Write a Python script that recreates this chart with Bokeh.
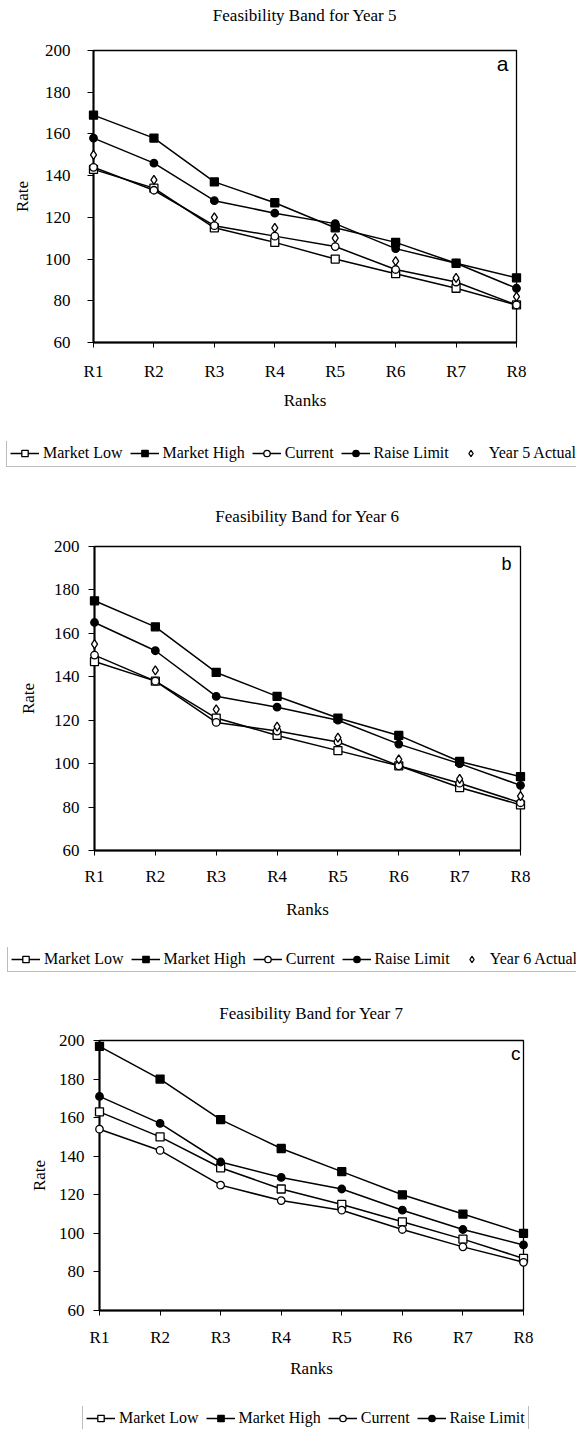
from bokeh.plotting import figure
from bokeh.models import Range1d, FixedTicker, Legend, LegendItem, Label, Title
from bokeh.layouts import column
from bokeh.embed import file_html
from bokeh.resources import INLINE

ranks = ["R1", "R2", "R3", "R4", "R5", "R6", "R7", "R8"]
rank_pos = [1, 2, 3, 4, 5, 6, 7, 8]
y_ticks = [60, 80, 100, 120, 140, 160, 180, 200]

# Year 5
y5_market_low = [143, 134, 115, 108, 100, 93, 86, 78]
y5_market_high = [169, 158, 137, 127, 115, 108, 98, 91]
y5_current = [144, 133, 116, 111, 106, 95, 89, 78]
y5_raise_limit = [158, 146, 128, 122, 117, 105, 98, 86]
y5_actual = [150, 138, 120, 115, 110, 99, 91, 82]

# Year 6
y6_market_low = [147, 138, 121, 113, 106, 99, 89, 81]
y6_market_high = [175, 163, 142, 131, 121, 113, 101, 94]
y6_current = [150, 138, 119, 115, 110, 99, 91, 82]
y6_raise_limit = [165, 152, 131, 126, 120, 109, 100, 90]
y6_actual = [155, 143, 125, 117, 112, 102, 93, 85]

# Year 7
y7_market_low = [163, 150, 134, 123, 115, 106, 97, 87]
y7_market_high = [197, 180, 159, 144, 132, 120, 110, 100]
y7_current = [154, 143, 125, 117, 112, 102, 93, 85]
y7_raise_limit = [171, 157, 137, 129, 123, 112, 102, 94]

series_labels = ["Market Low", "Market High", "Current", "Raise Limit"]

SERIF = "Liberation Serif"
SANS = "Liberation Sans"
MARKERS = [("square", "white", 8), ("square", "black", 8),
           ("circle", "white", 7.5), ("circle", "black", 7.5)]


def add_series(p, series, actual, level):
    rends = []
    for vals, (marker, fill, size) in zip(series, MARKERS):
        ln = p.line(rank_pos, vals, line_color="black", line_width=1.5)
        sc = p.scatter(rank_pos, vals, marker=marker, size=size, fill_color=fill,
                       line_color="black", line_width=1.3, level=level)
        rends.append([ln, sc])
    if actual is not None:
        sc = p.scatter(rank_pos, actual, marker="diamond", size=9, fill_color="white",
                       line_color="black", line_width=1.3, level=level)
        rends.append([sc])
    return rends


def panel(title, letter, series, actual, actual_label,
          height, b_left, b_right, b_top, b_bottom, title_gap,
          ylab_standoff, yaxis_label_standoff, xlab_standoff, xaxis_label_standoff,
          letter_size, letter_dx, letter_dy, leg_height, leg_loc):
    p = figure(width=576, height=height, x_range=Range1d(1, 8), y_range=Range1d(60, 200),
               output_backend="svg", toolbar_location=None, title=None,
               min_border_left=b_left, min_border_right=b_right,
               min_border_top=b_top, min_border_bottom=b_bottom)
    # spacer between frame and title, then the title itself
    p.add_layout(Title(text="\u00a0", text_font_size="1px", standoff=title_gap), "above")
    p.add_layout(Title(text=title, align="center", text_font=SERIF, text_font_size="17px",
                       text_font_style="normal", text_color="black", standoff=0), "above")
    p.xgrid.visible = False
    p.ygrid.visible = False
    p.outline_line_color = "black"
    p.outline_line_width = 1.3
    p.background_fill_color = "white"
    p.border_fill_color = "white"

    p.xaxis.ticker = FixedTicker(ticks=rank_pos)
    p.xaxis.major_label_overrides = {k: r for k, r in zip(rank_pos, ranks)}
    p.yaxis.ticker = FixedTicker(ticks=y_ticks)
    for ax in (p.xaxis[0], p.yaxis[0]):
        ax.axis_line_width = 2
        ax.axis_line_color = "black"
        ax.major_tick_line_color = "black"
        ax.major_tick_line_width = 1
        ax.major_tick_in = 0
        ax.minor_tick_line_color = None
        ax.major_label_text_font = SERIF
        ax.major_label_text_font_size = "17px"
        ax.major_label_text_color = "black"
        ax.axis_label_text_font = SERIF
        ax.axis_label_text_font_size = "17px"
        ax.axis_label_text_font_style = "normal"
        ax.axis_label_text_color = "black"
    p.xaxis.major_tick_out = 5
    p.yaxis.major_tick_out = 6
    p.xaxis.axis_label = "Ranks"
    p.yaxis.axis_label = "Rate"
    p.xaxis.major_label_standoff = xlab_standoff
    p.xaxis.axis_label_standoff = xaxis_label_standoff
    p.yaxis.major_label_standoff = ylab_standoff
    p.yaxis.axis_label_standoff = yaxis_label_standoff

    add_series(p, series, actual, "overlay")

    p.add_layout(Label(x=8, y=200, text=letter, x_offset=letter_dx, y_offset=letter_dy,
                       text_align="right", text_baseline="top",
                       text_font=SANS, text_font_size=letter_size, text_color="black"))

    # legend strip below the chart (same series, legend only)
    lg = figure(width=576, height=leg_height, x_range=Range1d(1, 8), y_range=Range1d(0, 1),
                output_backend="svg", toolbar_location=None, title=None,
                x_axis_type=None, y_axis_type=None,
                min_border=0, min_border_left=0, min_border_right=0,
                min_border_top=0, min_border_bottom=0)
    lg.outline_line_color = None
    lg.xgrid.visible = False
    lg.ygrid.visible = False
    lg.background_fill_color = "white"
    lg.border_fill_color = "white"
    rends = add_series(lg, series, actual, "glyph")
    labels = list(series_labels) + ([actual_label] if actual is not None else [])
    items = [LegendItem(label=l, renderers=r) for l, r in zip(labels, rends)]
    legend = Legend(items=items, location=leg_loc, orientation="horizontal",
                    label_text_font=SERIF, label_text_font_size="16px",
                    label_text_font_style="normal",
                    label_text_color="black",
                    glyph_width=29, glyph_height=16, label_height=19,
                    label_standoff=4, spacing=7, padding=3, margin=0,
                    border_line_color="#7a7a7a", border_line_width=1.5,
                    background_fill_color="white", background_fill_alpha=1)
    lg.add_layout(legend, "center")
    return column(p), column(lg)


pa, la = panel("Feasibility Band for Year 5", "a",
               [y5_market_low, y5_market_high, y5_current, y5_raise_limit],
               y5_actual, "Year 5 Actual",
               height=441, b_left=93, b_right=60, b_top=50, b_bottom=99, title_gap=23,
               ylab_standoff=17, yaxis_label_standoff=10, xlab_standoff=14,
               xaxis_label_standoff=7, letter_size="21px", letter_dx=-8, letter_dy=-1,
               leg_height=49, leg_loc=(6, 23.5))
pb, lb = panel("Feasibility Band for Year 6", "b",
               [y6_market_low, y6_market_high, y6_current, y6_raise_limit],
               y6_actual, "Year 6 Actual",
               height=457, b_left=94, b_right=56, b_top=56, b_bottom=97, title_gap=18,
               ylab_standoff=9, yaxis_label_standoff=13, xlab_standoff=11,
               xaxis_label_standoff=11, letter_size="18px", letter_dx=-9, letter_dy=-7.5,
               leg_height=38, leg_loc=(7, 13))
pc, lc = panel("Feasibility Band for Year 7", "c",
               [y7_market_low, y7_market_high, y7_current, y7_raise_limit],
               None, None,
               height=421, b_left=99, b_right=53, b_top=55, b_bottom=96, title_gap=15,
               ylab_standoff=9, yaxis_label_standoff=7, xlab_standoff=12,
               xaxis_label_standoff=9, letter_size="19px", letter_dx=-3, letter_dy=-2,
               leg_height=23, leg_loc=(82, -2))

layout = column(pa, la, pb, lb, pc, lc, spacing=0)
open("out.html", "w").write(file_html(layout, INLINE))
